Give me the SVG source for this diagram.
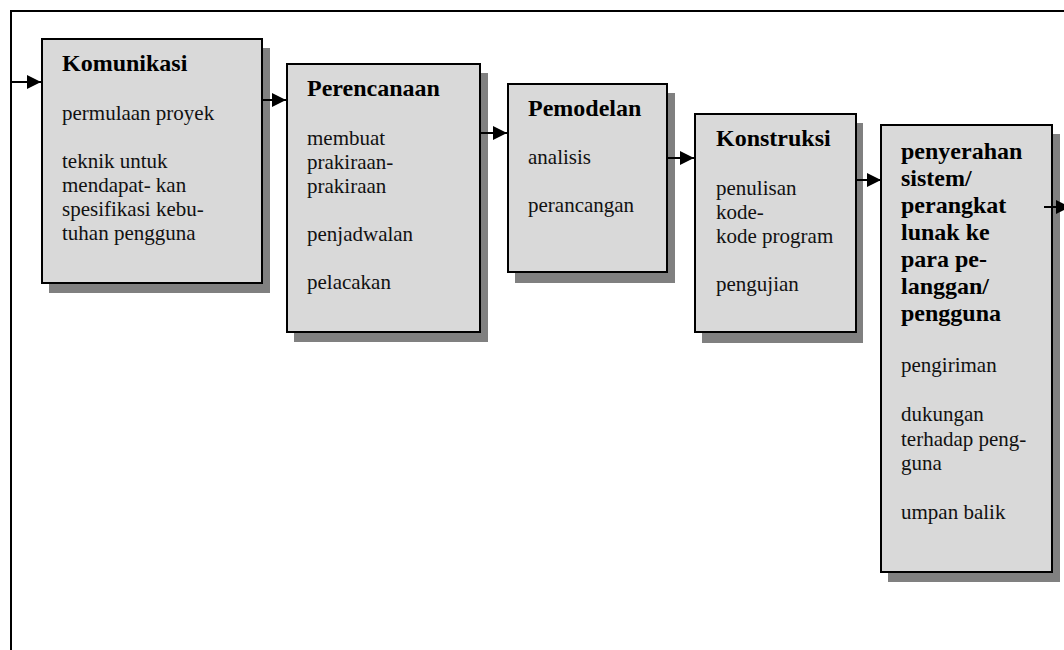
<svg xmlns="http://www.w3.org/2000/svg" width="1064" height="650" viewBox="0 0 1064 650">
<defs>
<style>
.shadow{fill:#808080;stroke:none}
.box{fill:#d9d9d9;stroke:#000;stroke-width:2}
.t{font-family:"Liberation Serif","Times New Roman",serif;font-size:24px;font-weight:bold;fill:#000}
.b{font-family:"Liberation Serif","Times New Roman",serif;font-size:21px;fill:#111}
.c{stroke:#000;stroke-width:2;fill:none}
.frame{stroke:#000;stroke-width:2;fill:none}
</style>
<marker id="ah" markerWidth="14" markerHeight="14" refX="14" refY="7" orient="auto" markerUnits="userSpaceOnUse">
<path d="M0,0 L14,7 L0,14 Z" fill="#000"/>
</marker>
</defs>
<rect width="1064" height="650" fill="#fff"/>
<path class="frame" d="M11,650 L11,11 L1064,11"/>

<g id="n1">
<rect class="shadow" x="49" y="48" width="221" height="245"/>
<rect class="box" x="42" y="39" width="220" height="244"/>
<text class="t" x="62" y="71">Komunikasi</text>
<text class="b" x="62" y="120">permulaan proyek</text>
<text class="b" x="62" y="168">teknik untuk</text>
<text class="b" x="62" y="192">mendapat- kan</text>
<text class="b" x="62" y="216">spesifikasi kebu-</text>
<text class="b" x="62" y="240">tuhan pengguna</text>
</g>

<g id="n2">
<rect class="shadow" x="294" y="73" width="194" height="269"/>
<rect class="box" x="287" y="64" width="193" height="268"/>
<text class="t" x="307" y="96">Perencanaan</text>
<text class="b" x="307" y="145">membuat</text>
<text class="b" x="307" y="169">prakiraan-</text>
<text class="b" x="307" y="193">prakiraan</text>
<text class="b" x="307" y="241">penjadwalan</text>
<text class="b" x="307" y="289">pelacakan</text>
</g>

<g id="n3">
<rect class="shadow" x="515" y="93" width="160" height="190"/>
<rect class="box" x="508" y="84" width="159" height="188"/>
<text class="t" x="528" y="116">Pemodelan</text>
<text class="b" x="528" y="164">analisis</text>
<text class="b" x="528" y="212">perancangan</text>
</g>

<g id="n4">
<rect class="shadow" x="702" y="123" width="161" height="220"/>
<rect class="box" x="695" y="114" width="161" height="218"/>
<text class="t" x="716" y="146">Konstruksi</text>
<text class="b" x="716" y="195">penulisan</text>
<text class="b" x="716" y="219">kode-</text>
<text class="b" x="716" y="243">kode program</text>
<text class="b" x="716" y="291">pengujian</text>
</g>

<g id="n5">
<rect class="shadow" x="888" y="134" width="172" height="448"/>
<rect class="box" x="881" y="125" width="171" height="447"/>
<text class="t" x="901" y="159">penyerahan</text>
<text class="t" x="901" y="186">sistem/</text>
<text class="t" x="901" y="213">perangkat</text>
<text class="t" x="901" y="240">lunak ke</text>
<text class="t" x="901" y="267">para pe-</text>
<text class="t" x="901" y="294">langgan/</text>
<text class="t" x="901" y="321">pengguna</text>
<text class="b" x="901" y="372">pengiriman</text>
<text class="b" x="901" y="421">dukungan</text>
<text class="b" x="901" y="446">terhadap peng-</text>
<text class="b" x="901" y="470">guna</text>
<text class="b" x="901" y="519">umpan balik</text>
</g>

<g id="connectors">
<line class="c" x1="11" y1="82" x2="41" y2="82" marker-end="url(#ah)"/>
<line class="c" x1="263" y1="100" x2="286" y2="100" marker-end="url(#ah)"/>
<line class="c" x1="481" y1="133" x2="507" y2="133" marker-end="url(#ah)"/>
<line class="c" x1="668" y1="158" x2="694" y2="158" marker-end="url(#ah)"/>
<line class="c" x1="857" y1="180" x2="881" y2="180" marker-end="url(#ah)"/>
<line class="c" x1="1044" y1="207" x2="1070" y2="207" marker-end="url(#ah)"/>
</g>
</svg>
